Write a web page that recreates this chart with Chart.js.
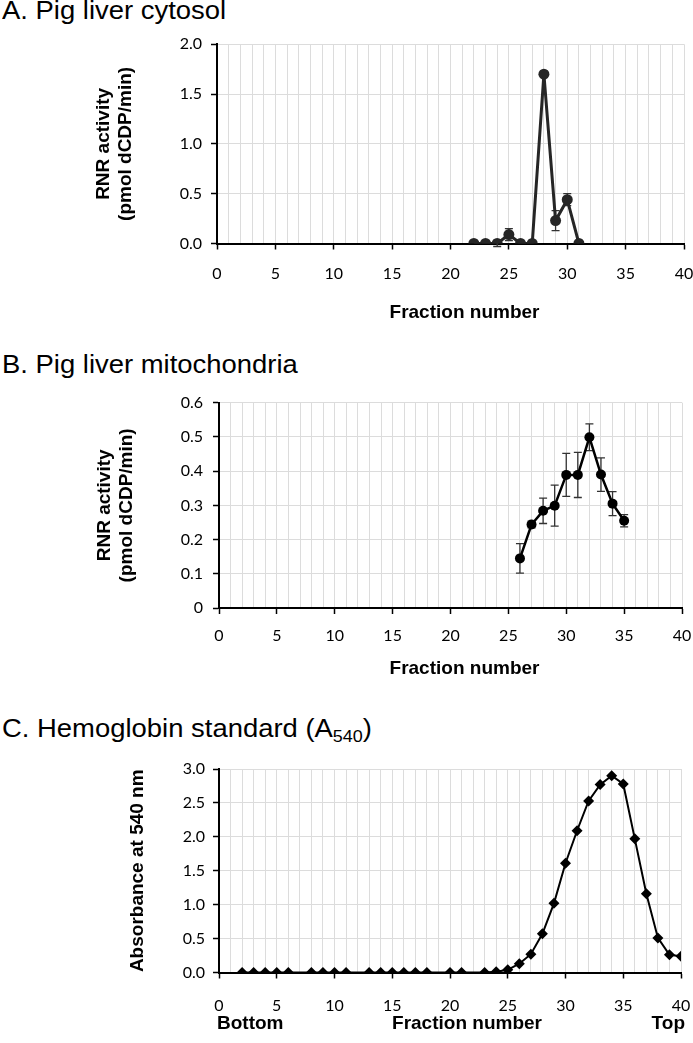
<!DOCTYPE html>
<html>
<head>
<meta charset="utf-8">
<script src="https://cdn.jsdelivr.net/npm/chart.js@4.4.1/dist/chart.umd.min.js"></script>
<style>
  body { margin: 0; background: #fff; }
  #page { position: relative; width: 693px; height: 1043px; overflow: hidden; }
  .title {
    position: absolute; left: 2px;
    font-family: 'Liberation Sans', Arial, sans-serif;
    font-size: 26px; line-height: 26px; color: #000; white-space: nowrap;
    transform: scaleX(1.055); transform-origin: left top;
  }
  .title sub { font-size: 17px; vertical-align: -5px; line-height: 0; }
  canvas { position: absolute; left: 0; }
</style>
</head>
<body>
<div id="page">
  <div class="title" style="top:-3px">A. Pig liver cytosol</div>
  <canvas id="chartA" width="693" height="305" style="top:25px"></canvas>
  <div class="title" style="top:351px">B. Pig liver mitochondria</div>
  <canvas id="chartB" width="693" height="300" style="top:385px"></canvas>
  <div class="title" style="top:715px">C. Hemoglobin standard (A<sub>540</sub>)</div>
  <canvas id="chartC" width="693" height="293" style="top:750px"></canvas>
</div>
<script>
// A. cytosol
const cytosolFractions = [22, 23, 24, 25, 26, 27, 28, 29, 30, 31];
const cytosolActivity  = [0, 0, 0, 0.09, 0, 0, 1.70, 0.23, 0.44, 0];
const cytosolError     = [0, 0, 0.03, 0.06, 0, 0, 0, 0.10, 0.06, 0];

// B. mitochondria
const mitoFractions = [26, 27, 28, 29, 30, 31, 32, 33, 34, 35];
const mitoActivity  = [0.145, 0.244, 0.284, 0.299, 0.389, 0.389, 0.499, 0.390, 0.305, 0.255];
const mitoError     = [0.043, 0.010, 0.037, 0.060, 0.063, 0.066, 0.039, 0.049, 0.035, 0.018];

// C. hemoglobin standard
const hbFractions = [2, 3, 4, 5, 6, 8, 9, 10, 11, 13, 14, 15, 16, 17, 18, 20, 21,
                     23, 24, 25, 26, 27, 28, 29, 30, 31, 32, 33, 34, 35, 36, 37, 38, 39, 40];
const hbAbsorbance = [0, 0, 0, 0, 0, 0, 0, 0, 0, 0, 0, 0, 0, 0, 0, 0, 0,
                      0, 0.01, 0.04, 0.13, 0.27, 0.57, 1.02, 1.61, 2.09, 2.53, 2.77, 2.90, 2.78, 1.97, 1.16, 0.51, 0.26, 0.24];

const xTickLabels = [0, 5, 10, 15, 20, 25, 30, 35, 40];

const TICK_FONT = { family: "Lato, 'Open Sans', sans-serif", size: 16 };
const BOLD_FONT = "bold 19px 'Liberation Sans', Arial, sans-serif";

const errorBars = {
  id: 'errorBars',
  beforeDatasetsDraw(chart, args, opts) {
    if (!opts.values) return;
    const xs = chart.scales.x, ys = chart.scales.y, ctx = chart.ctx;
    const pts = chart.data.datasets[0].data;
    ctx.save();
    ctx.strokeStyle = '#333';
    ctx.lineWidth = 1.3;
    pts.forEach((p, i) => {
      const e = opts.values[i];
      if (!e) return;
      const px = xs.getPixelForValue(p.x);
      const top = ys.getPixelForValue(p.y + e);
      const bot = ys.getPixelForValue(p.y - e);
      ctx.beginPath();
      ctx.moveTo(px, top); ctx.lineTo(px, bot);
      ctx.moveTo(px - 4, top); ctx.lineTo(px + 4, top);
      ctx.moveTo(px - 4, bot); ctx.lineTo(px + 4, bot);
      ctx.stroke();
    });
    ctx.restore();
  }
};

// bold labels under the x axis (axis title, Bottom/Top)
const axisNotes = {
  id: 'axisNotes',
  afterDraw(chart, args, opts) {
    if (!opts.items) return;
    const ctx = chart.ctx, area = chart.chartArea;
    ctx.save();
    ctx.font = BOLD_FONT;
    ctx.fillStyle = '#000';
    ctx.textBaseline = 'alphabetic';
    opts.items.forEach(it => {
      let x = (area.left + area.right) / 2 + (it.dx || 0);
      if (it.align === 'left') x = area.left + (it.dx || 0);
      if (it.align === 'right') x = area.right + (it.dx || 0);
      ctx.textAlign = it.align || 'center';
      ctx.fillText(it.text, x, area.bottom + it.dy);
    });
    ctx.restore();
  }
};

function makePanel(id, p) {
  const canvas = document.getElementById(id);
  const top = parseFloat(canvas.style.top);
  const h = canvas.height;
  const data = p.xs.map((x, i) => ({ x: x, y: p.ys[i] }));
  return new Chart(canvas, {
    type: 'line',
    data: {
      datasets: [{
        data: data,
        borderColor: p.color,
        backgroundColor: p.color,
        borderWidth: p.lineWidth,
        pointStyle: p.pointStyle,
        pointRadius: p.pointRadius,
        pointBorderWidth: 0,
        tension: 0,
        fill: false
      }]
    },
    options: {
      responsive: false,
      animation: false,
      events: [],
      layout: { padding: { top: p.area.top - top, right: 693 - p.area.right, left: 0, bottom: 0 } },
      plugins: {
        legend: { display: false },
        tooltip: { enabled: false },
        errorBars: { values: p.errors },
        axisNotes: { items: p.notes }
      },
      scales: {
        x: {
          type: 'linear', min: 0, max: 40,
          afterBuildTicks: s => { s.ticks = []; for (let v = 0; v <= 40; v++) s.ticks.push({ value: v }); },
          afterFit: s => { s.height = top + h - p.area.bottom; s.paddingLeft = 0; s.paddingRight = 0; },
          ticks: {
            autoSkip: false, maxRotation: 0, padding: p.xPad, color: '#000', font: TICK_FONT,
            callback: v => xTickLabels.includes(v) ? String(v) : ''
          },
          grid: {
            color: '#dcdcdc', lineWidth: 1, tickLength: 6, tickWidth: 1.5,
            tickColor: c => (c.tick && c.tick.value % 5 === 0) ? '#000' : 'rgba(0,0,0,0)'
          },
          border: { color: '#000', width: 2 }
        },
        y: {
          min: 0, max: p.yMax,
          afterFit: s => { s.width = p.area.left; s.paddingTop = 0; s.paddingBottom = 0; },
          ticks: {
            stepSize: p.yStep, padding: p.yPad, color: '#000', font: TICK_FONT,
            callback: p.yFormat
          },
          grid: { color: '#dcdcdc', lineWidth: 1, tickLength: 6, tickWidth: 1.5, tickColor: '#000' },
          border: { color: '#000', width: 2 },
          title: {
            display: true, text: p.yTitle, color: '#000',
            font: { family: "'Liberation Sans', Arial, sans-serif", size: 19, weight: 'bold', lineHeight: 1.2 },
            padding: { top: p.yTitlePad, bottom: 0 }
          }
        }
      }
    },
    plugins: [errorBars, axisNotes]
  });
}

makePanel('chartA', {
  xs: cytosolFractions, ys: cytosolActivity, errors: cytosolError,
  color: '#262626', lineWidth: 3, pointStyle: 'circle', pointRadius: 5.5,
  area: { left: 217, right: 684, top: 44.3, bottom: 243.5 },
  yMax: 2, yStep: 0.5, yFormat: v => v.toFixed(1), yPad: 9, xPad: 14.5,
  yTitle: ['RNR activity', '(pmol dCDP/min)'], yTitlePad: 92,
  notes: [{ text: 'Fraction number', dx: 14, dy: 74 }]
});

makePanel('chartB', {
  xs: mitoFractions, ys: mitoActivity, errors: mitoError,
  color: '#000', lineWidth: 2.5, pointStyle: 'circle', pointRadius: 5,
  area: { left: 219, right: 682, top: 402.7, bottom: 608 },
  yMax: 0.6, yStep: 0.1, yFormat: v => v === 0 ? '0' : v.toFixed(1), yPad: 10, xPad: 12,
  yTitle: ['RNR activity', '(pmol dCDP/min)'], yTitlePad: 93,
  notes: [{ text: 'Fraction number', dx: 14, dy: 66 }]
});

makePanel('chartC', {
  xs: hbFractions, ys: hbAbsorbance, errors: null,
  color: '#000', lineWidth: 2, pointStyle: 'rectRot', pointRadius: 5.5,
  area: { left: 219, right: 681, top: 769, bottom: 972.5 },
  yMax: 3, yStep: 0.5, yFormat: v => v.toFixed(1), yPad: 8, xPad: 17.5,
  yTitle: 'Absorbance at 540 nm', yTitlePad: 126,
  notes: [
    { text: 'Bottom', align: 'left', dx: -2, dy: 56.5 },
    { text: 'Fraction number', dx: 17, dy: 56.5 },
    { text: 'Top', align: 'right', dx: 4, dy: 56.5 }
  ]
});
</script>
</body>
</html>
